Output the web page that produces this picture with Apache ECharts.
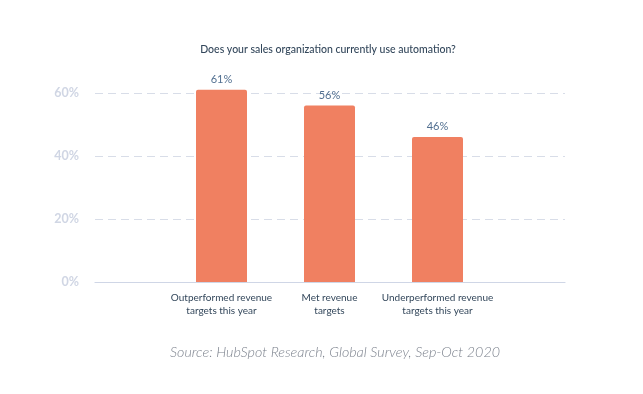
<!DOCTYPE html>
<html>
<head>
<meta charset="utf-8">
<script src="https://cdn.jsdelivr.net/npm/echarts@6/dist/echarts.min.js"></script>
<style>
html,body{margin:0;padding:0;background:#fff;}
#chart{width:643px;height:394px;}
</style>
</head>
<body>
<div id="chart"></div>
<script>
const categories = ['Outperformed revenue\ntargets this year', 'Met revenue\ntargets', 'Underperformed revenue\ntargets this year'];
const values = [61, 56, 46];
const yTicks = [0, 20, 40, 60];
const titleText = 'Does your sales organization currently use automation?';
const sourceText = 'Source: HubSpot Research, Global Survey, Sep-Oct 2020';

const chart = echarts.init(document.getElementById('chart'));
const FONT = 'Lato';
chart.setOption({
  animation: false,
  textStyle: { fontFamily: FONT },
  title: [
    { text: titleText, left: 323, top: 39, textAlign: 'center',
      textStyle: { fontFamily: FONT, fontSize: 10.5, fontWeight: 500, color: '#33475b' } },
    { text: sourceText, left: 330, top: 340, textAlign: 'center',
      textStyle: { fontFamily: FONT, fontSize: 14.3, fontWeight: 300, fontStyle: 'italic', color: '#7c828d' } }
  ],
  grid: [
    { left: 95, right: 78, top: 93, bottom: 112 },
    { left: 167.5, right: 151.5, top: 93, bottom: 112 }
  ],
  xAxis: [
    { type: 'value', gridIndex: 0, min: 0, max: 1, splitLine: { show: false },
      axisLabel: { show: false }, axisTick: { show: false },
      axisLine: { show: true, lineStyle: { color: '#cfd6e6', width: 1.2 } } },
    { type: 'category', gridIndex: 1, data: categories,
      axisLine: { show: false }, axisTick: { show: false },
      axisLabel: { margin: 9, fontSize: 10, lineHeight: 13.5, color: '#33475b', fontFamily: FONT, interval: 0 } }
  ],
  yAxis: [
    { type: 'value', gridIndex: 0, min: yTicks[0], max: yTicks[yTicks.length - 1], interval: 20,
      axisLine: { show: false }, axisTick: { show: false },
      axisLabel: { margin: 16, fontSize: 12.5, fontWeight: 'bold', color: '#d0d6e4', fontFamily: FONT,
        formatter: v => v + '%' },
      splitLine: { show: true, lineStyle: { color: '#d8dde8', type: [8, 5], width: 1 } } },
    { type: 'value', gridIndex: 1, min: yTicks[0], max: yTicks[yTicks.length - 1], interval: 20, show: false,
      splitLine: { show: false } }
  ],
  series: [
    { type: 'bar', xAxisIndex: 1, yAxisIndex: 1, data: values, barWidth: 51, clip: false,
      itemStyle: { color: '#f08061', borderRadius: [2, 2, 0, 0] },
      label: { show: true, position: 'top', distance: 5, formatter: '{c}%', fontSize: 11,
        color: '#516f90', fontFamily: FONT } }
  ]
});
</script>
</body>
</html>
